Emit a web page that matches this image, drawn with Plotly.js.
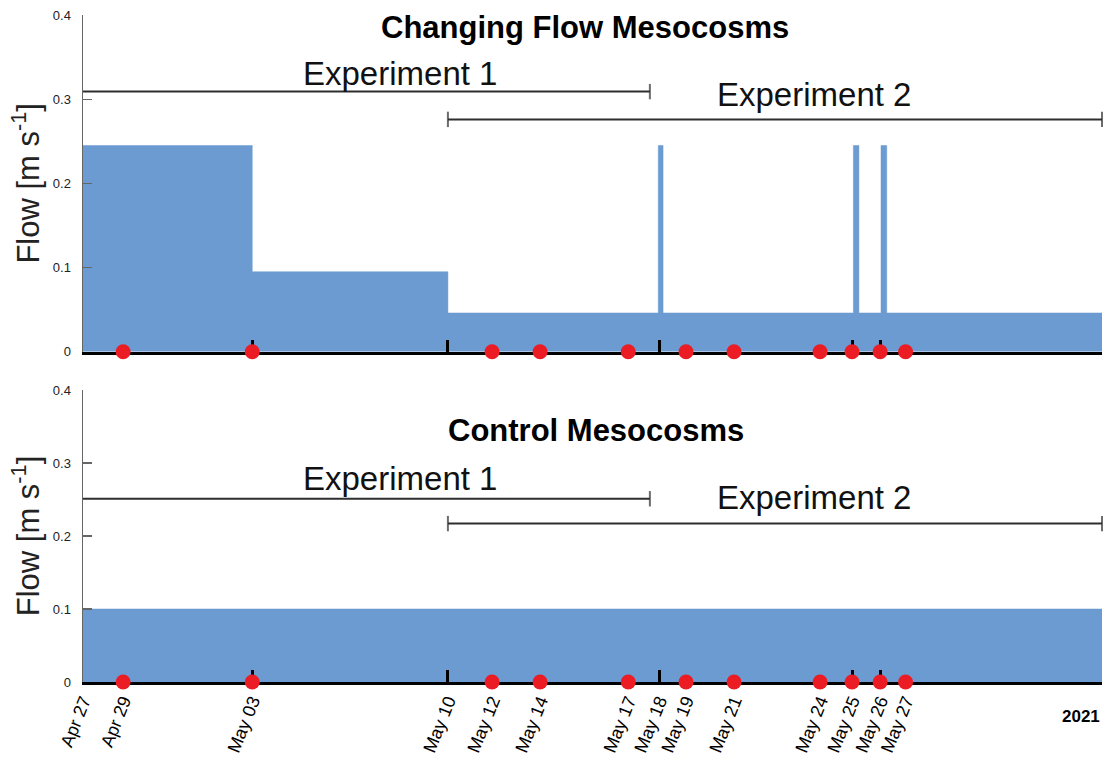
<!DOCTYPE html>
<html>
<head>
<meta charset="utf-8">
<script src="https://cdn.plot.ly/plotly-3.0.1.min.js"></script>
<style>html,body{margin:0;padding:0;background:#fff;}#chart{width:1105px;height:758px;}</style>
</head>
<body>
<div id="chart"></div>
<script>
// ---- data ----
const axisStart = '2021-04-27 00:00';
const axisEnd = '2021-06-03 00:00';

// Changing-flow mesocosms: step flow (m/s), spikes of high flow
const flowTimes = ['2021-04-27 00:00','2021-05-03 03:30','2021-05-10 06:00','2021-05-17 21:20','2021-05-18 01:30','2021-05-24 23:20','2021-05-25 04:10','2021-05-25 23:25','2021-05-26 04:25','2021-06-03 00:00'];
const flowValues = [0.245,0.095,0.046,0.245,0.046,0.245,0.046,0.245,0.046,0.046];

// Control mesocosms: constant flow
const controlTimes = ['2021-04-27 00:00','2021-06-03 00:00'];
const controlValues = [0.1,0.1];

// Sampling dates (red dots)
const sampleTimes = ['2021-04-28 11:00','2021-05-03 03:30','2021-05-11 20:30','2021-05-13 14:20','2021-05-16 19:10','2021-05-18 21:30','2021-05-20 15:20','2021-05-23 18:20','2021-05-24 22:10','2021-05-25 22:40','2021-05-26 20:50'];
const sampleZeros = [0,0,0,0,0,0,0,0,0,0,0];

// Flow-change tick marks
const changeTicks = ['2021-04-27 00:00','2021-05-03 03:30','2021-05-10 06:00','2021-05-17 22:00','2021-05-24 22:10','2021-05-25 22:40','2021-06-03 00:00'];

// Date labels
const labelTimes = ['2021-04-27 00:00','2021-04-28 11:00','2021-05-03 03:30','2021-05-10 06:00','2021-05-11 20:30','2021-05-13 14:20','2021-05-16 19:10','2021-05-17 22:00','2021-05-18 21:30','2021-05-20 15:20','2021-05-23 18:20','2021-05-24 22:10','2021-05-25 22:40','2021-05-26 20:50'];
const labelTexts = ['Apr 27','Apr 29','May 03','May 10','May 12','May 14','May 17','May 18','May 19','May 21','May 24','May 25','May 26','May 27'];

// Experiment periods
const exp1Times = ['2021-04-27 00:00','2021-05-17 14:00'];
const exp2Times = ['2021-05-10 06:00','2021-06-03 00:00'];
const expTopLevels = [0.309, 0.276];
const expBottomLevels = [0.251, 0.217];

const yTickVals = [0,0.1,0.2,0.3,0.4];
const yTickText = ['0','0.1','0.2','0.3','0.4'];

// ---- styling ----
const FONT = 'Liberation Sans, Arial, Helvetica, sans-serif';
const BLUE = 'rgb(107,155,208)';
const RED = 'rgb(236,28,36)';
const EXPC = '#2e2e2e';

function expTrace(xs, lvl, xa, ya) {
  return {x: xs, y: [lvl, lvl], xaxis: xa, yaxis: ya, type: 'scatter', mode: 'lines+markers',
    line: {color: EXPC, width: 2}, cliponaxis: false,
    marker: {symbol: 'line-ns-open', size: [xs[0] === axisStart ? 0 : 11, 11], line: {color: EXPC, width: 2}, color: EXPC},
    hoverinfo: 'skip', showlegend: false};
}

const traces = [
  {x: flowTimes, y: flowValues, xaxis: 'x', yaxis: 'y', type: 'scatter', mode: 'lines',
   line: {shape: 'hv', width: 0.5, color: BLUE}, fill: 'tozeroy', fillcolor: BLUE, hoverinfo: 'skip', showlegend: false},
  {x: controlTimes, y: controlValues, xaxis: 'x2', yaxis: 'y2', type: 'scatter', mode: 'lines',
   line: {shape: 'hv', width: 0.5, color: BLUE}, fill: 'tozeroy', fillcolor: BLUE, hoverinfo: 'skip', showlegend: false},
  {x: sampleTimes, y: sampleZeros, xaxis: 'x3', yaxis: 'y3', type: 'scatter', mode: 'markers', cliponaxis: false,
   marker: {size: 15, color: RED}, hoverinfo: 'skip', showlegend: false},
  {x: sampleTimes, y: sampleZeros, xaxis: 'x4', yaxis: 'y4', type: 'scatter', mode: 'markers', cliponaxis: false,
   marker: {size: 15, color: RED}, hoverinfo: 'skip', showlegend: false},
  expTrace(exp1Times, expTopLevels[0], 'x3', 'y3'),
  expTrace(exp2Times, expTopLevels[1], 'x3', 'y3'),
  expTrace(exp1Times, expBottomLevels[0], 'x4', 'y4'),
  expTrace(exp2Times, expBottomLevels[1], 'x4', 'y4')
];

const topDom = [0.4952, 1];
const botDom = [0, 0.4378];

function mainX(anchor) {
  return {anchor: anchor, domain: [0,1], type: 'date', range: [axisStart, axisEnd],
    showline: true, linecolor: '#000', linewidth: 3, ticks: 'inside', ticklen: 12, tickwidth: 3, tickcolor: '#000',
    tickmode: 'array', tickvals: changeTicks, showticklabels: false, showgrid: false, zeroline: false,
    layer: 'above traces', fixedrange: true};
}
function mainY(anchor, dom) {
  return {anchor: anchor, domain: dom, range: [0, 0.4], showline: true, linecolor: '#666', linewidth: 1.5,
    ticks: 'inside', ticklen: 9, tickwidth: 1.2, tickcolor: '#666', tickmode: 'array', tickvals: yTickVals, ticktext: yTickText,
    tickfont: {family: FONT, size: 13, color: '#222'}, ticklabelstandoff: 8, showgrid: false, zeroline: false, fixedrange: true,
    title: {text: 'Flow [m s<sup>-1</sup>]', font: {family: FONT, size: 31, color: '#222'}, standoff: 4}};
}
function hiddenY(anchor, dom) {
  return {anchor: anchor, domain: dom, range: [0, 0.4], visible: false, fixedrange: true};
}

const layout = {
  width: 1105, height: 758,
  margin: {l: 83, r: 3, t: 15, b: 76},
  paper_bgcolor: '#fff', plot_bgcolor: 'rgba(0,0,0,0)',
  showlegend: false, hovermode: false,
  font: {family: FONT, color: '#000'},
  xaxis: mainX('y'),
  yaxis: mainY('x', topDom),
  xaxis2: mainX('y2'),
  yaxis2: mainY('x2', botDom),
  xaxis3: {anchor: 'y3', domain: [0,1], type: 'date', range: [axisStart, axisEnd], visible: false, fixedrange: true},
  yaxis3: hiddenY('x3', topDom),
  xaxis4: {anchor: 'y4', domain: [0,1], type: 'date', range: [axisStart, axisEnd], showline: false, ticks: '',
    tickmode: 'array', tickvals: labelTimes, ticktext: labelTexts, tickangle: -68,
    tickfont: {family: FONT, size: 18, color: '#000'}, ticklabelstandoff: 4, showgrid: false, zeroline: false, fixedrange: true},
  yaxis4: hiddenY('x4', botDom),
  annotations: [
    {text: '<b>Changing Flow Mesocosms</b>', xref: 'paper', yref: 'y', x: 0.493, y: 0.3857, showarrow: false,
     font: {family: FONT, size: 31, color: '#000'}, xanchor: 'center', yanchor: 'middle'},
    {text: '<b>Control Mesocosms</b>', xref: 'paper', yref: 'y2', x: 0.503, y: 0.345, showarrow: false,
     font: {family: FONT, size: 31, color: '#000'}, xanchor: 'center', yanchor: 'middle'},
    {text: 'Experiment 1', xref: 'x3', yref: 'y3', x: '2021-05-08 12:00', y: 0.331, showarrow: false,
     font: {family: FONT, size: 33, color: '#111'}, xanchor: 'center', yanchor: 'middle'},
    {text: 'Experiment 2', xref: 'x3', yref: 'y3', x: '2021-05-23 13:00', y: 0.305, showarrow: false,
     font: {family: FONT, size: 33, color: '#111'}, xanchor: 'center', yanchor: 'middle'},
    {text: 'Experiment 1', xref: 'x4', yref: 'y4', x: '2021-05-08 12:00', y: 0.279, showarrow: false,
     font: {family: FONT, size: 33, color: '#111'}, xanchor: 'center', yanchor: 'middle'},
    {text: 'Experiment 2', xref: 'x4', yref: 'y4', x: '2021-05-23 13:00', y: 0.253, showarrow: false,
     font: {family: FONT, size: 33, color: '#111'}, xanchor: 'center', yanchor: 'middle'},
    {text: '<b>2021</b>', xref: 'paper', yref: 'paper', x: 1.0, y: -0.052, showarrow: false,
     font: {family: FONT, size: 17, color: '#000'}, xanchor: 'right', yanchor: 'middle'}
  ]
};

Plotly.newPlot('chart', traces, layout, {displayModeBar: false, staticPlot: true});
</script>
</body>
</html>
